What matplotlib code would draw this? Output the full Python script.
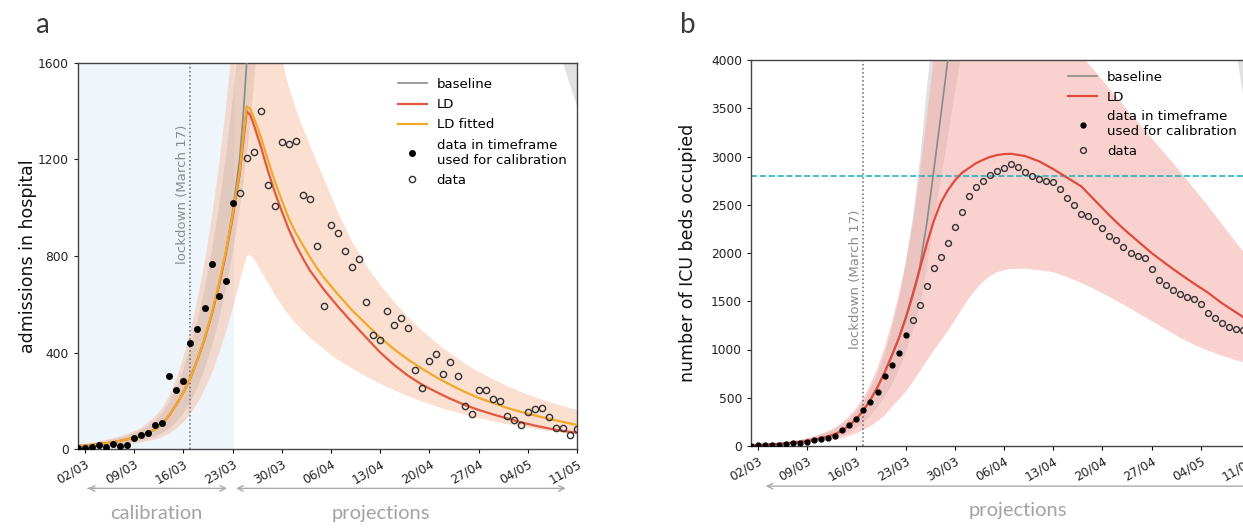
import matplotlib
matplotlib.use('Agg')
import matplotlib.pyplot as plt
import numpy as np

plt.rcParams['font.family'] = ['DejaVu Sans']

# ---------------- data ----------------
# day index: 0 = 02/03/2020
tick_days = [0, 7, 14, 21, 28, 35, 42, 49, 56, 63, 70]
tick_labels = ['02/03', '09/03', '16/03', '23/03', '30/03', '06/04',
               '13/04', '20/04', '27/04', '04/05', '11/05']

# grid on which the model curves were read
days = [-1, 0, 2, 4, 6, 8, 10, 11, 12, 13, 14, 15, 16, 17, 18, 19, 20, 21, 22,
        22.5, 23, 23.5, 24, 25, 26, 27, 28, 29, 30, 31, 32, 33, 34, 35, 36,
        38, 40, 42, 44, 46, 48, 50, 52, 54, 56, 58, 60, 62, 64, 66, 68, 70]

# ---- panel a : admissions in hospital ----
a_calib_days = [-1, 0, 1, 2, 3, 4, 5, 6, 7, 8, 9, 10, 11, 12, 13, 14, 15,
                16, 17, 18, 19, 20, 21]
a_calib_vals = [6, 6, 10, 17, 10, 20, 12, 17, 45, 58, 65, 100, 107, 302,
                246, 281, 441, 497, 583, 768, 636, 698, 1018]
a_data_days = list(range(22, 71))
a_data_vals = [1060, 1206, 1231, 1401, 1095, 1009, 1273, 1265, 1276, 1053,
               1035, 840, 591, 930, 895, 820, 755, 786, 611, 473, 451, 573,
               513, 541, 501, 326, 252, 365, 395, 309, 360, 302, 179, 146,
               246, 246, 207, 200, 135, 121, 99, 153, 167, 170, 131, 89, 89,
               56, 82]

a_ld = [12, 14, 20, 28, 40, 55, 82, 105, 140, 185, 235, 295, 370, 455, 555,
        670, 805, 960, 1140, 1270, 1400, 1385, 1345, 1255, 1155, 1065, 985,
        910, 845, 790, 740, 700, 660, 625, 590, 525, 462, 400, 348, 303, 266,
        236, 208, 183, 162, 144, 127, 111, 97, 85, 75, 67]
a_ld_fit = [12, 14, 20, 28, 40, 55, 82, 105, 140, 185, 235, 295, 370, 458,
            560, 678, 815, 970, 1150, 1290, 1420, 1410, 1375, 1295, 1200,
            1110, 1030, 955, 895, 845, 795, 750, 710, 675, 640, 575, 518,
            462, 413, 370, 332, 297, 266, 237, 212, 191, 171, 154, 139, 125,
            112, 100]
a_base = [12, 14, 20, 28, 40, 55, 82, 105, 140, 185, 235, 295, 370, 455, 555,
          670, 810, 985, 1200, 1380, 1600, 1850, 2100, 2700, 3300, 3900,
          4500, 5000, 5500, 5900, 6200, 6400, 6500, 6500, 6400, 6100, 5700,
          5200, 4700, 4200, 3800, 3400, 3100, 2800, 2600, 2450, 2350, 2250,
          2150, 2080, 2020, 1960]
a_base_lo = [8, 9, 13, 18, 25, 35, 52, 65, 85, 112, 148, 195, 255, 330, 420,
             530, 660, 810, 990, 1100, 1220, 1350, 1500, 1850, 2300, 2800,
             3300, 3800, 4200, 4500, 4700, 4800, 4850, 4850, 4800, 4600, 4350,
             4000, 3700, 3400, 3100, 2850, 2650, 2450, 2300, 2150, 2050, 1950,
             1850, 1750, 1600, 1420]
a_base_hi = [18, 20, 28, 40, 55, 78, 118, 150, 195, 255, 330, 420, 530, 660,
             810, 990, 1200, 1450, 1750, 1950, 2200, 2500, 2800, 3500, 4200,
             4900, 5600, 6200, 6800, 7200, 7500, 7700, 7800, 7800, 7700, 7400,
             7000, 6500, 6000, 5500, 5000, 4600, 4200, 3900, 3600, 3300, 3100,
             2900, 2700, 2500, 2350, 2200]
a_ld_lo = [6, 7, 10, 14, 19, 27, 40, 50, 64, 84, 110, 145, 190, 245, 310,
           390, 480, 580, 690, 745, 800, 805, 790, 740, 690, 640, 595, 555,
           520, 490, 462, 437, 413, 390, 370, 333, 300, 270, 243, 218, 196,
           176, 158, 142, 128, 115, 103, 93, 83, 75, 67, 60]
a_ld_hi = [20, 22, 32, 45, 62, 88, 135, 170, 220, 290, 380, 490, 620, 770,
           950, 1160, 1400, 1680, 2000, 2150, 2300, 2350, 2350, 2250, 2050,
           1820, 1620, 1500, 1410, 1330, 1260, 1190, 1120, 1050, 980, 860,
           760, 680, 610, 545, 490, 440, 395, 355, 320, 290, 262, 237, 215,
           195, 178, 162]

# ---- panel b : ICU beds occupied ----
b_calib_days = list(range(-1, 22))
b_calib_vals = [5, 8, 10, 12, 15, 20, 27, 35, 45, 59, 70, 87, 105, 164, 220,
                279, 374, 454, 559, 723, 838, 961, 1153]
b_data_days = list(range(22, 70))
b_data_vals = [1310, 1457, 1660, 1840, 1960, 2105, 2265, 2420, 2590, 2680,
               2750, 2805, 2850, 2885, 2925, 2890, 2840, 2800, 2765, 2750,
               2735, 2665, 2575, 2500, 2400, 2380, 2330, 2260, 2175, 2130,
               2065, 2000, 1970, 1945, 1830, 1720, 1665, 1615, 1575, 1545,
               1525, 1475, 1380, 1325, 1270, 1235, 1210, 1200]

b_ld = [9, 11, 18, 28, 42, 65, 100, 125, 160, 215, 280, 370, 480, 610, 760,
        930, 1110, 1320, 1560, 1690, 1830, 1960, 2090, 2330, 2520, 2650,
        2750, 2830, 2880, 2930, 2965, 2995, 3015, 3025, 3028, 3005, 2950,
        2870, 2780, 2690, 2540, 2390, 2250, 2125, 2000, 1890, 1785, 1685,
        1590, 1480, 1385, 1290]
b_base = [9, 11, 18, 28, 42, 65, 100, 125, 160, 215, 280, 370, 480, 610, 760,
          930, 1110, 1330, 1580, 1710, 1850, 2080, 2300, 2850, 3420, 4000,
          4600, 5200, 5800, 6300, 6700, 7000, 7200, 7300, 7300, 7100, 6800,
          6500, 6200, 5900, 5600, 5350, 5100, 4950, 4850, 4750, 4700, 4650,
          4600, 4550, 4500, 4450]
b_base_lo = [6, 7, 12, 19, 29, 45, 70, 88, 112, 145, 190, 245, 315, 400, 505,
             630, 780, 960, 1180, 1310, 1450, 1620, 1850, 2300, 2750, 3200,
             3650, 4100, 4600, 5000, 5300, 5500, 5600, 5650, 5650, 5550, 5400,
             5250, 5100, 4950, 4800, 4700, 4600, 4500, 4450, 4400, 4350, 4300,
             4250, 4200, 4100, 3200]
b_base_hi = [14, 16, 26, 40, 60, 92, 140, 175, 220, 280, 360, 460, 590, 750,
             950, 1200, 1500, 1880, 2350, 2650, 2950, 3300, 3700, 4350, 5000,
             5600, 6200, 6800, 7300, 7700, 8000, 8200, 8300, 8300, 8200, 8000,
             7700, 7400, 7100, 6800, 6500, 6250, 6000, 5800, 5600, 5400, 5250,
             5100, 5000, 4900, 4800, 4700]
b_ld_lo = [5, 6, 10, 16, 24, 36, 55, 68, 85, 106, 132, 165, 205, 255, 315,
           400, 480, 560, 660, 715, 770, 825, 880, 990, 1090, 1190, 1300,
           1420, 1530, 1620, 1700, 1760, 1800, 1820, 1835, 1838, 1822, 1800,
           1750, 1690, 1620, 1545, 1465, 1380, 1295, 1210, 1125, 1050, 990,
           935, 890, 850]
b_ld_hi = [14, 16, 26, 42, 65, 100, 155, 195, 245, 310, 395, 500, 640, 810,
           1020, 1270, 1560, 1900, 2300, 2550, 2800, 3100, 3400, 4000, 4600,
           5100, 5500, 5700, 5800, 5850, 5850, 5800, 5750, 5700, 5600, 5400,
           5100, 4750, 4400, 4050, 3880, 3700, 3530, 3360, 3190, 3020, 2850,
           2670, 2490, 2300, 2110, 1930]

lockdown_day = 15
icu_capacity = 2800
calib_end = 21

# ---------------- figure ----------------
W, H = 1243, 531
fig = plt.figure(figsize=(W / 100, H / 100), dpi=100)


def px_axes(left, right, top, bottom):
    return fig.add_axes([left / W, (H - bottom) / H, (right - left) / W, (bottom - top) / H])


ax_a = px_axes(78, 577, 63, 449)
ax_b = px_axes(751, 1250, 60, 446)

c_base = '#8a8a8a'
c_ld_a = '#e2583e'
c_fit = '#f0a928'
c_ld_b = '#e04a3c'
c_grey_txt = '#a3a3a3'


def style_axis(ax):
    for s in ax.spines.values():
        s.set_color('#444444')
        s.set_linewidth(1.0)
    ax.set_xticks(tick_days)
    ax.set_xticklabels(tick_labels, rotation=30, ha='right', rotation_mode='anchor',
                       fontsize=8.8, color='#222222')
    ax.tick_params(axis='y', labelsize=8.8, colors='#222222', length=3)
    ax.tick_params(axis='x', length=3, pad=3)
    ax.set_xlim(-1, 70)


leg_kw = dict(loc='upper left', frameon=False, fontsize=9.5, handlelength=2.2,
              numpoints=1, borderaxespad=0, handletextpad=0.75)

# ---- panel a ----
ax = ax_a
ax.axvspan(-1, calib_end, color='#eef5fb', zorder=0)
ax.fill_between(days, a_base_lo, a_base_hi, color='#9c9c9c', alpha=0.3, lw=0, zorder=1)
ax.fill_between(days, a_ld_lo, a_ld_hi, color='#f6b08e', alpha=0.4, lw=0, zorder=1)
ax.plot(days, a_base, color=c_base, lw=1.2, label='baseline', zorder=3)
ax.plot(days, a_ld, color=c_ld_a, lw=1.6, label='LD', zorder=4)
ax.plot(days, a_ld_fit, color=c_fit, lw=1.6, label='LD fitted', zorder=4)
ax.plot(a_calib_days, a_calib_vals, 'o', color='black', ms=4,
        label='data in timeframe\nused for calibration', zorder=5)
ax.plot(a_data_days, a_data_vals, 'o', mfc='none', mec='#333333', mew=1.0, ms=4.5,
        label='data', zorder=5)
ax.axvline(lockdown_day, color='#666666', ls=':', lw=1.1, zorder=2)
ax.text(lockdown_day - 1.2, 1345, 'lockdown (March 17)', rotation=90, va='top', ha='center',
        fontsize=9.5, color='#8c8c8c', zorder=6)
ax.set_ylim(0, 1600)
ax.set_yticks([0, 400, 800, 1200, 1600])
style_axis(ax)
ax.set_ylabel('admissions in hospital', fontsize=12.5, color='#111111')
ax.yaxis.set_label_coords(-0.082, 0.5)
ax.legend(bbox_to_anchor=(0.63, 0.975), labelspacing=0.55, **leg_kw)

tr = ax.get_xaxis_transform()
ax.annotate('', xy=(20.6, -0.102), xytext=(0, -0.102), xycoords=tr, textcoords=tr,
            arrowprops=dict(arrowstyle='->', color='#aaaaaa', lw=1), annotation_clip=False)
ax.annotate('', xy=(21.1, -0.102), xytext=(68.8, -0.102), xycoords=tr, textcoords=tr,
            arrowprops=dict(arrowstyle='<->', color='#aaaaaa', lw=1), annotation_clip=False)
ax.annotate('', xy=(0, -0.102), xytext=(2, -0.102), xycoords=tr, textcoords=tr,
            arrowprops=dict(arrowstyle='->', color='#aaaaaa', lw=1), annotation_clip=False)
ax.text(10.1, -0.168, 'calibration', transform=tr, ha='center', va='center',
        fontsize=14.5, color=c_grey_txt, family='Lato')
ax.text(42.1, -0.168, 'projections', transform=tr, ha='center', va='center',
        fontsize=14.5, color=c_grey_txt, family='Lato')

# ---- panel b ----
ax = ax_b
ax.fill_between(days, b_base_lo, b_base_hi, color='#b5b5b5', alpha=0.4, lw=0, zorder=1)
ax.fill_between(days, b_ld_lo, b_ld_hi, color='#f5a7a0', alpha=0.5, lw=0, zorder=1)
ax.plot(days, b_base, color=c_base, lw=1.2, label='baseline', zorder=3)
ax.plot(days, b_ld, color=c_ld_b, lw=1.6, label='LD', zorder=4)
ax.plot(b_calib_days, b_calib_vals, 'o', color='black', ms=3.5,
        label='data in timeframe\nused for calibration', zorder=5)
ax.plot(b_data_days, b_data_vals, 'o', mfc='none', mec='#333333', mew=1.0, ms=4.2,
        label='data', zorder=5)
ax.axvline(lockdown_day, color='#666666', ls=':', lw=1.1, zorder=2)
ax.axhline(icu_capacity, color='#27b4be', ls='--', lw=1.2, zorder=2)
ax.text(lockdown_day - 1.2, 2450, 'lockdown (March 17)', rotation=90, va='top', ha='center',
        fontsize=9.5, color='#8c8c8c', zorder=6)
ax.set_ylim(0, 4000)
ax.set_yticks(range(0, 4001, 500))
style_axis(ax)
ax.set_ylabel('number of ICU beds occupied', fontsize=12.5, color='#111111')
ax.yaxis.set_label_coords(-0.108, 0.5)
ax.legend(bbox_to_anchor=(0.625, 0.985), labelspacing=0.5, **leg_kw)

tr = ax.get_xaxis_transform()
ax.annotate('', xy=(0.7, -0.104), xytext=(73, -0.104), xycoords=tr, textcoords=tr,
            arrowprops=dict(arrowstyle='->', color='#aaaaaa', lw=1), annotation_clip=False)
ax.text(37, -0.166, 'projections', transform=tr, ha='center', va='center',
        fontsize=14.5, color=c_grey_txt, family='Lato')

# panel letters
fig.text(42 / W, 1 - 25 / H, 'a', fontsize=20, color='#3a3a3a', ha='center', va='center',
         family='Lato')
fig.text(688 / W, 1 - 25 / H, 'b', fontsize=20, color='#3a3a3a', ha='center', va='center',
         family='Lato')

fig.savefig('out.png', dpi=100)
